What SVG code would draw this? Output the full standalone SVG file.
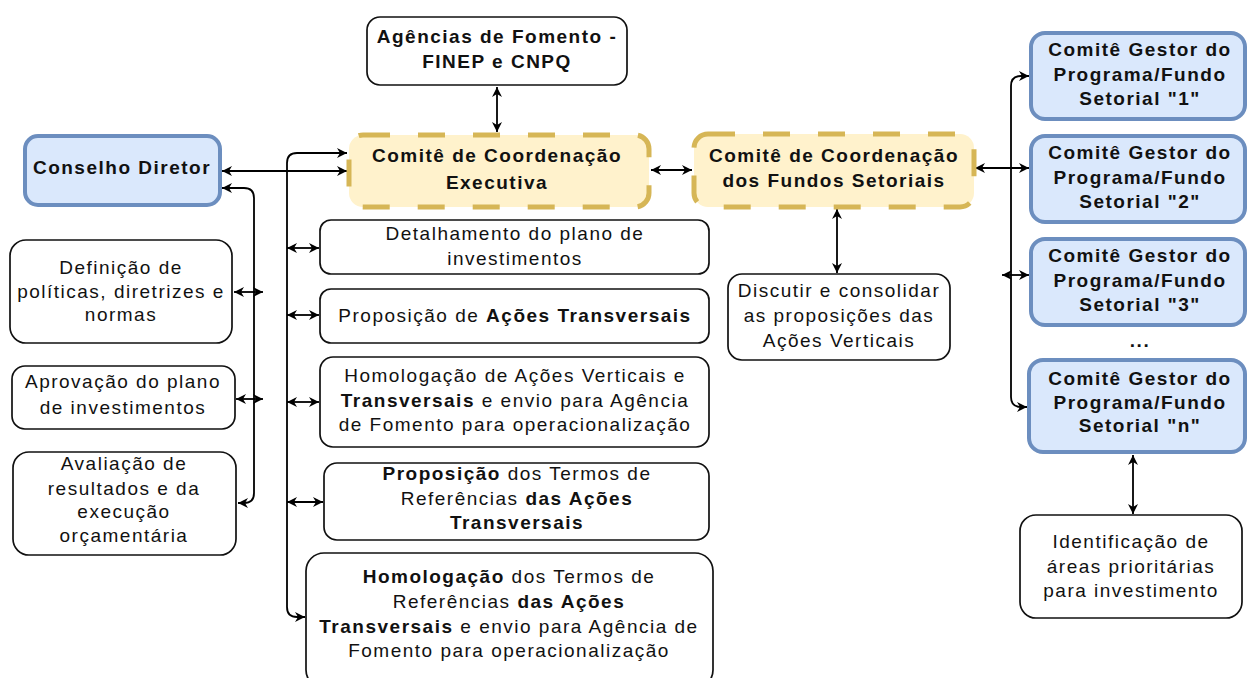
<svg xmlns="http://www.w3.org/2000/svg" width="1248" height="678" viewBox="0 0 1248 678">
<defs>
<style>
.t{font-family:"Liberation Sans",Arial,sans-serif;font-size:19px;letter-spacing:1.5px;fill:#111;text-anchor:middle}
.b{font-weight:bold}
.box{fill:#fff;stroke:#111;stroke-width:1.7}
.blue{fill:#dae8fc;stroke:#6c8ebf;stroke-width:4}
.yel{fill:#fff2cc;stroke:#d6b656;stroke-width:5;stroke-dasharray:27 28}
.c{fill:none;stroke:#000;stroke-width:1.8}
</style>
<marker id="ah" viewBox="0 0 10 10" refX="10" refY="5" markerWidth="12" markerHeight="10" markerUnits="userSpaceOnUse" orient="auto-start-reverse">
<path d="M0,0 L10,5 L0,10 L3,5 z" fill="#000"/>
</marker>
</defs>
<rect width="1248" height="678" fill="#fff"/>

<g id="connectors" class="c">
<path d="M497,87 L497,132" marker-start="url(#ah)" marker-end="url(#ah)"/>
<path d="M222,171 L347,171" marker-start="url(#ah)" marker-end="url(#ah)"/>
<path d="M347,153 L297,153 Q287,153 287,163 L287,607 Q287,617 297,617 L305,617" marker-start="url(#ah)" marker-end="url(#ah)"/>
<path d="M287,248 L319,248" marker-start="url(#ah)" marker-end="url(#ah)"/>
<path d="M287,315 L319,315" marker-start="url(#ah)" marker-end="url(#ah)"/>
<path d="M287,402 L319,402" marker-start="url(#ah)" marker-end="url(#ah)"/>
<path d="M287,502 L323,502" marker-start="url(#ah)" marker-end="url(#ah)"/>
<path d="M222,188 L244,188 Q254,188 254,198 L254,493 Q254,503 244,503 L238,503" marker-start="url(#ah)" marker-end="url(#ah)"/>
<path d="M234,292 L263,292" marker-start="url(#ah)" marker-end="url(#ah)"/>
<path d="M236,399 L263,399" marker-start="url(#ah)" marker-end="url(#ah)"/>
<path d="M651,170 L692,170" marker-start="url(#ah)" marker-end="url(#ah)"/>
<path d="M837,209 L837,273" marker-start="url(#ah)" marker-end="url(#ah)"/>
<path d="M975,168 L1029,168" marker-start="url(#ah)" marker-end="url(#ah)"/>
<path d="M1029,76 L1021,76 Q1011,76 1011,86 L1011,397 Q1011,407 1021,407 L1027,407" marker-start="url(#ah)" marker-end="url(#ah)"/>
<path d="M1002,275 L1029,275" marker-start="url(#ah)" marker-end="url(#ah)"/>
<path d="M1133,455 L1133,514" marker-start="url(#ah)" marker-end="url(#ah)"/>
</g>

<g id="agencias">
<rect class="box" x="367" y="17" width="260" height="68" rx="13"/>
<text class="t b" x="497" y="43">Agências de Fomento -</text>
<text class="t b" x="497" y="68">FINEP e CNPQ</text>
</g>

<g id="conselho">
<rect class="blue" x="25" y="136" width="195" height="69" rx="13"/>
<text class="t b" x="122" y="174">Conselho Diretor</text>
</g>

<g id="exec">
<rect class="yel" x="349" y="135" width="300" height="72" rx="14"/>
<text class="t b" x="497" y="162">Comitê de Coordenação</text>
<text class="t b" x="497" y="189">Executiva</text>
</g>

<g id="fundos">
<rect class="yel" x="694" y="134" width="280" height="73" rx="14"/>
<text class="t b" x="834" y="162">Comitê de Coordenação</text>
<text class="t b" x="834" y="187">dos Fundos Setoriais</text>
</g>

<g id="gestor1">
<rect class="blue" x="1031" y="33" width="214" height="86" rx="14"/>
<text class="t b" x="1140" y="56">Comitê Gestor do</text>
<text class="t b" x="1140" y="81">Programa/Fundo</text>
<text class="t b" x="1140" y="105">Setorial "1"</text>
</g>

<g id="gestor2">
<rect class="blue" x="1031" y="136" width="214" height="86" rx="14"/>
<text class="t b" x="1140" y="159">Comitê Gestor do</text>
<text class="t b" x="1140" y="184">Programa/Fundo</text>
<text class="t b" x="1140" y="208">Setorial "2"</text>
</g>

<g id="gestor3">
<rect class="blue" x="1031" y="239" width="214" height="86" rx="14"/>
<text class="t b" x="1140" y="262">Comitê Gestor do</text>
<text class="t b" x="1140" y="287">Programa/Fundo</text>
<text class="t b" x="1140" y="311">Setorial "3"</text>
</g>

<g id="dots">
<text class="t b" x="1140" y="347">...</text>
</g>

<g id="gestorn">
<rect class="blue" x="1029" y="360" width="216" height="92" rx="14"/>
<text class="t b" x="1140" y="385">Comitê Gestor do</text>
<text class="t b" x="1140" y="409">Programa/Fundo</text>
<text class="t b" x="1140" y="432">Setorial "n"</text>
</g>

<g id="identificacao">
<rect class="box" x="1020" y="515" width="222" height="103" rx="16"/>
<text class="t" x="1131" y="548">Identificação de</text>
<text class="t" x="1131" y="573">áreas prioritárias</text>
<text class="t" x="1131" y="597">para investimento</text>
</g>

<g id="discutir">
<rect class="box" x="728" y="274" width="222" height="86" rx="14"/>
<text class="t" x="839" y="297">Discutir e consolidar</text>
<text class="t" x="839" y="322">as proposições das</text>
<text class="t" x="839" y="347">Ações Verticais</text>
</g>

<g id="detalhamento">
<rect class="box" x="320" y="220" width="389" height="54" rx="11"/>
<text class="t" x="515" y="240">Detalhamento do plano de</text>
<text class="t" x="515" y="265">investimentos</text>
</g>

<g id="proposicao-acoes">
<rect class="box" x="320" y="289" width="389" height="54" rx="11"/>
<text class="t" x="515" y="322">Proposição de <tspan class="b">Ações Transversais</tspan></text>
</g>

<g id="homologacao-acoes">
<rect class="box" x="320" y="357" width="389" height="90" rx="13"/>
<text class="t" x="515" y="382">Homologação de Ações Verticais e</text>
<text class="t" x="515" y="407"><tspan class="b">Transversais</tspan> e envio para Agência</text>
<text class="t" x="515" y="431">de Fomento para operacionalização</text>
</g>

<g id="proposicao-termos">
<rect class="box" x="324" y="463" width="385" height="77" rx="13"/>
<text class="t" x="517" y="480"><tspan class="b">Proposição</tspan> dos Termos de</text>
<text class="t" x="517" y="505">Referências <tspan class="b">das Ações</tspan></text>
<text class="t b" x="517" y="529">Transversais</text>
</g>

<g id="homologacao-termos">
<rect class="box" x="306" y="553" width="407" height="135" rx="18"/>
<text class="t" x="509" y="583"><tspan class="b">Homologação</tspan> dos Termos de</text>
<text class="t" x="509" y="608">Referências <tspan class="b">das Ações</tspan></text>
<text class="t" x="509" y="633"><tspan class="b">Transversais</tspan> e envio para Agência de</text>
<text class="t" x="509" y="657">Fomento para operacionalização</text>
</g>

<g id="definicao">
<rect class="box" x="10" y="240" width="222" height="103" rx="16"/>
<text class="t" x="121" y="274">Definição de</text>
<text class="t" x="121" y="298">políticas, diretrizes e</text>
<text class="t" x="121" y="321">normas</text>
</g>

<g id="aprovacao">
<rect class="box" x="12" y="366" width="223" height="63" rx="13"/>
<text class="t" x="123" y="388">Aprovação do plano</text>
<text class="t" x="123" y="414">de investimentos</text>
</g>

<g id="avaliacao">
<rect class="box" x="13" y="452" width="223" height="103" rx="16"/>
<text class="t" x="124" y="470">Avaliação de</text>
<text class="t" x="124" y="495">resultados e da</text>
<text class="t" x="124" y="518">execução</text>
<text class="t" x="124" y="542">orçamentária</text>
</g>
</svg>
